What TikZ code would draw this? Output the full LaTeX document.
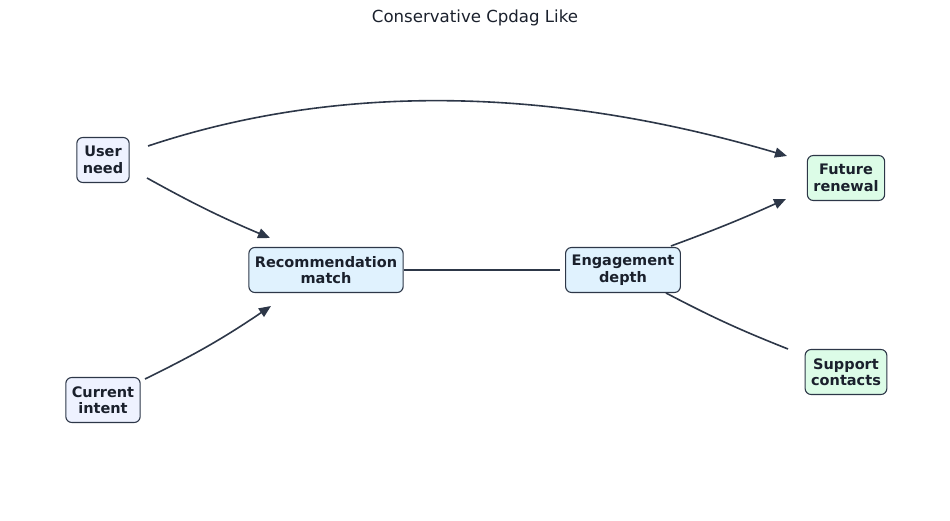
\documentclass[tikz,border=0pt]{standalone}
\usepackage{fontspec}
\setmainfont{DejaVu Sans}
\usetikzlibrary{arrows.meta,calc}
\definecolor{edgec}{HTML}{2D3748}
\definecolor{textc}{HTML}{1A202C}
\definecolor{fillin}{HTML}{EEF2FF}
\definecolor{fillmid}{HTML}{E0F2FE}
\definecolor{fillout}{HTML}{DCFCE7}
\tikzset{
  nbox/.style={draw=edgec, line width=1.1pt, rounded corners=6pt, align=center,
    font=\fontsize{14.5}{16.5}\selectfont\bfseries, text=textc,
    inner xsep=6pt, inner ysep=5pt, minimum height=45pt},
  conn/.style={draw=edgec, line width=1.6pt},
  arr/.style={conn, -{Triangle[length=12pt,width=10pt]}}
}
\begin{document}
\begin{tikzpicture}[x=1pt,y=-1pt]
\useasboundingbox (0,0) rectangle (950,521);
\node[font=\fontsize{16.6}{19}\selectfont, text=textc] (title) at (475,18) {Conservative Cpdag Like};
\node[nbox, fill=fillin] (un) at (103,160) {User\\need};
\node[nbox, fill=fillin] (ci) at (103,400) {Current\\intent};
\node[nbox, fill=fillmid] (rm) at (326,270) {Recommendation\\match};
\node[nbox, fill=fillmid] (ed) at (623,270) {Engagement\\depth};
\node[nbox, fill=fillout] (fr) at (846,178) {Future\\renewal};
\node[nbox, fill=fillout] (sc) at (846,372) {Support\\contacts};

\draw[arr] ($(un)+(45,-14)$) .. controls (337,83) and (550,86) .. ($(fr)+(-59,-22)$);
\draw[arr] ($(un)+(44,18)$) to[bend right=3] ($(rm)+(-56,-32)$);
\draw[arr] ($(ci)+(42,-21)$) to[bend right=4] ($(rm)+(-55,36)$);
\draw[conn] (rm.east) -- ($(ed)+(-63,0)$);
\draw[arr] ($(ed)+(48,-24)$) to[bend right=2] ($(fr)+(-60,21)$);
\draw[conn] ($(ed)+(43,23)$) to[bend right=3] ($(sc)+(-58,-23)$);
\end{tikzpicture}
\end{document}
